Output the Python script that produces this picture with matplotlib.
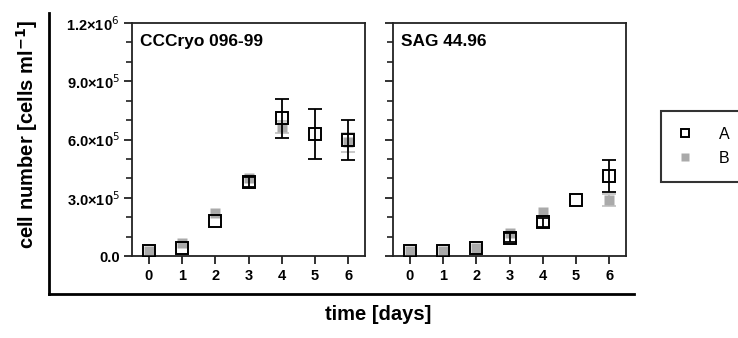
import numpy as np
import matplotlib
matplotlib.use("Agg")
import matplotlib.pyplot as plt
from matplotlib.ticker import MultipleLocator

plt.rcParams['font.family'] = ['Liberation Sans', 'DejaVu Sans']

days = np.arange(7)
panel_titles = ["CCCryo 096-99", "SAG 44.96"]

# CCCryo 096-99 (error bars smaller than the symbol are hidden -> nan)
left_a = [28000, 41000, 182000, 383000, 710000, 628000, 597000]
left_a_err = [np.nan, np.nan, np.nan, 26000, 100000, 130000, 105000]
left_b = [28000, 65000, 222000, 402000, 665000, np.nan, 585000]
left_b_err = [np.nan, np.nan, np.nan, np.nan, 30000, np.nan, 48000]

# SAG 44.96
right_a = [26000, 25000, 43000, 95000, 173000, 287000, 412000]
right_a_err = [np.nan, np.nan, np.nan, 24000, 24000, np.nan, 80000]
right_b = [26000, 25000, 43000, 120000, 227000, np.nan, 288000]
right_b_err = [np.nan, np.nan, np.nan, np.nan, np.nan, np.nan, 30000]

yticks = [0, 3e5, 6e5, 9e5, 1.2e6]
ytick_labels = ["0.0", r"3.0×10$^{5}$", r"6.0×10$^{5}$", r"9.0×10$^{5}$", r"1.2×10$^{6}$"]

W, H = 738, 338
fig = plt.figure(figsize=(W / 100, H / 100), dpi=100)


def px_box(x0, y0, x1, y1):
    return [x0 / W, 1 - y1 / H, (x1 - x0) / W, (y1 - y0) / H]


# outer L-shaped frame
outer = fig.add_axes(px_box(49, 13, 634, 294))
outer.set_xticks([])
outer.set_yticks([])
outer.spines['top'].set_visible(False)
outer.spines['right'].set_visible(False)
for s in ['left', 'bottom']:
    outer.spines[s].set_linewidth(2.0)
    outer.spines[s].set_color('black')
outer.patch.set_alpha(0)

gray = '#aaaaaa'
panels = [(left_a, left_a_err, left_b, left_b_err), (right_a, right_a_err, right_b, right_b_err)]
boxes = [px_box(132, 23, 365, 256), px_box(393, 23, 626, 256)]

handles = None
for i, (a, ae, b, be) in enumerate(panels):
    ax = fig.add_axes(boxes[i])
    ax.errorbar(days, b, yerr=be, fmt='none', ecolor='#c4c4c4', elinewidth=1.3,
                capsize=5, capthick=1.3, zorder=2)
    hb, = ax.plot(days, b, 's', ms=7.2, mfc=gray, mec='none', zorder=2.5)
    ax.errorbar(days, a, yerr=ae, fmt='none', ecolor='black', elinewidth=1.3,
                capsize=5, capthick=1.3, zorder=3)
    ha, = ax.plot(days, a, 's', ms=8, mfc='none', mec='black', mew=1.4, zorder=3.5)
    handles = (ha, hb)
    ax.set_xlim(-0.5, 6.5)
    ax.set_ylim(0, 1.2e6)
    ax.set_xticks(days)
    ax.set_xticklabels([str(d) for d in days], fontsize=10.5, fontweight='bold')
    ax.set_yticks(yticks)
    ax.yaxis.set_minor_locator(MultipleLocator(1e5))
    if i == 0:
        ax.set_yticklabels(ytick_labels, fontsize=10.5, fontweight='bold')
    else:
        ax.set_yticklabels([])
    ax.tick_params(axis='both', which='major', direction='out', length=6, width=1.3, color='#222222', pad=3)
    ax.tick_params(axis='y', which='minor', direction='out', length=4, width=1.2, color='#222222')
    for s in ax.spines.values():
        s.set_linewidth(1.3)
        s.set_color('#222222')
    ax.text(0.034, 0.92, panel_titles[i], transform=ax.transAxes, fontsize=12.4,
            fontweight='bold', ha='left', va='center')

fig.text(27 / W, 1 - 134 / H, r"cell number [cells ml$^{\mathbf{-1}}$]", rotation=90,
         ha='center', va='center', fontsize=14.5, fontweight='bold')
fig.text(378 / W, 1 - 314 / H, "time [days]", ha='center', va='center',
         fontsize=14.5, fontweight='bold')

leg = fig.legend([handles[0], handles[1]], ["A", "B"], loc='upper left',
                 bbox_to_anchor=(661 / W, 1 - 111 / H), fontsize=11.5, frameon=True,
                 fancybox=False, edgecolor='black', borderpad=1.0, handlelength=1.0,
                 handletextpad=1.6, labelspacing=0.55, borderaxespad=0, markerscale=0.8)
leg.get_frame().set_linewidth(1.5)

fig.savefig("out.png", dpi=100)
